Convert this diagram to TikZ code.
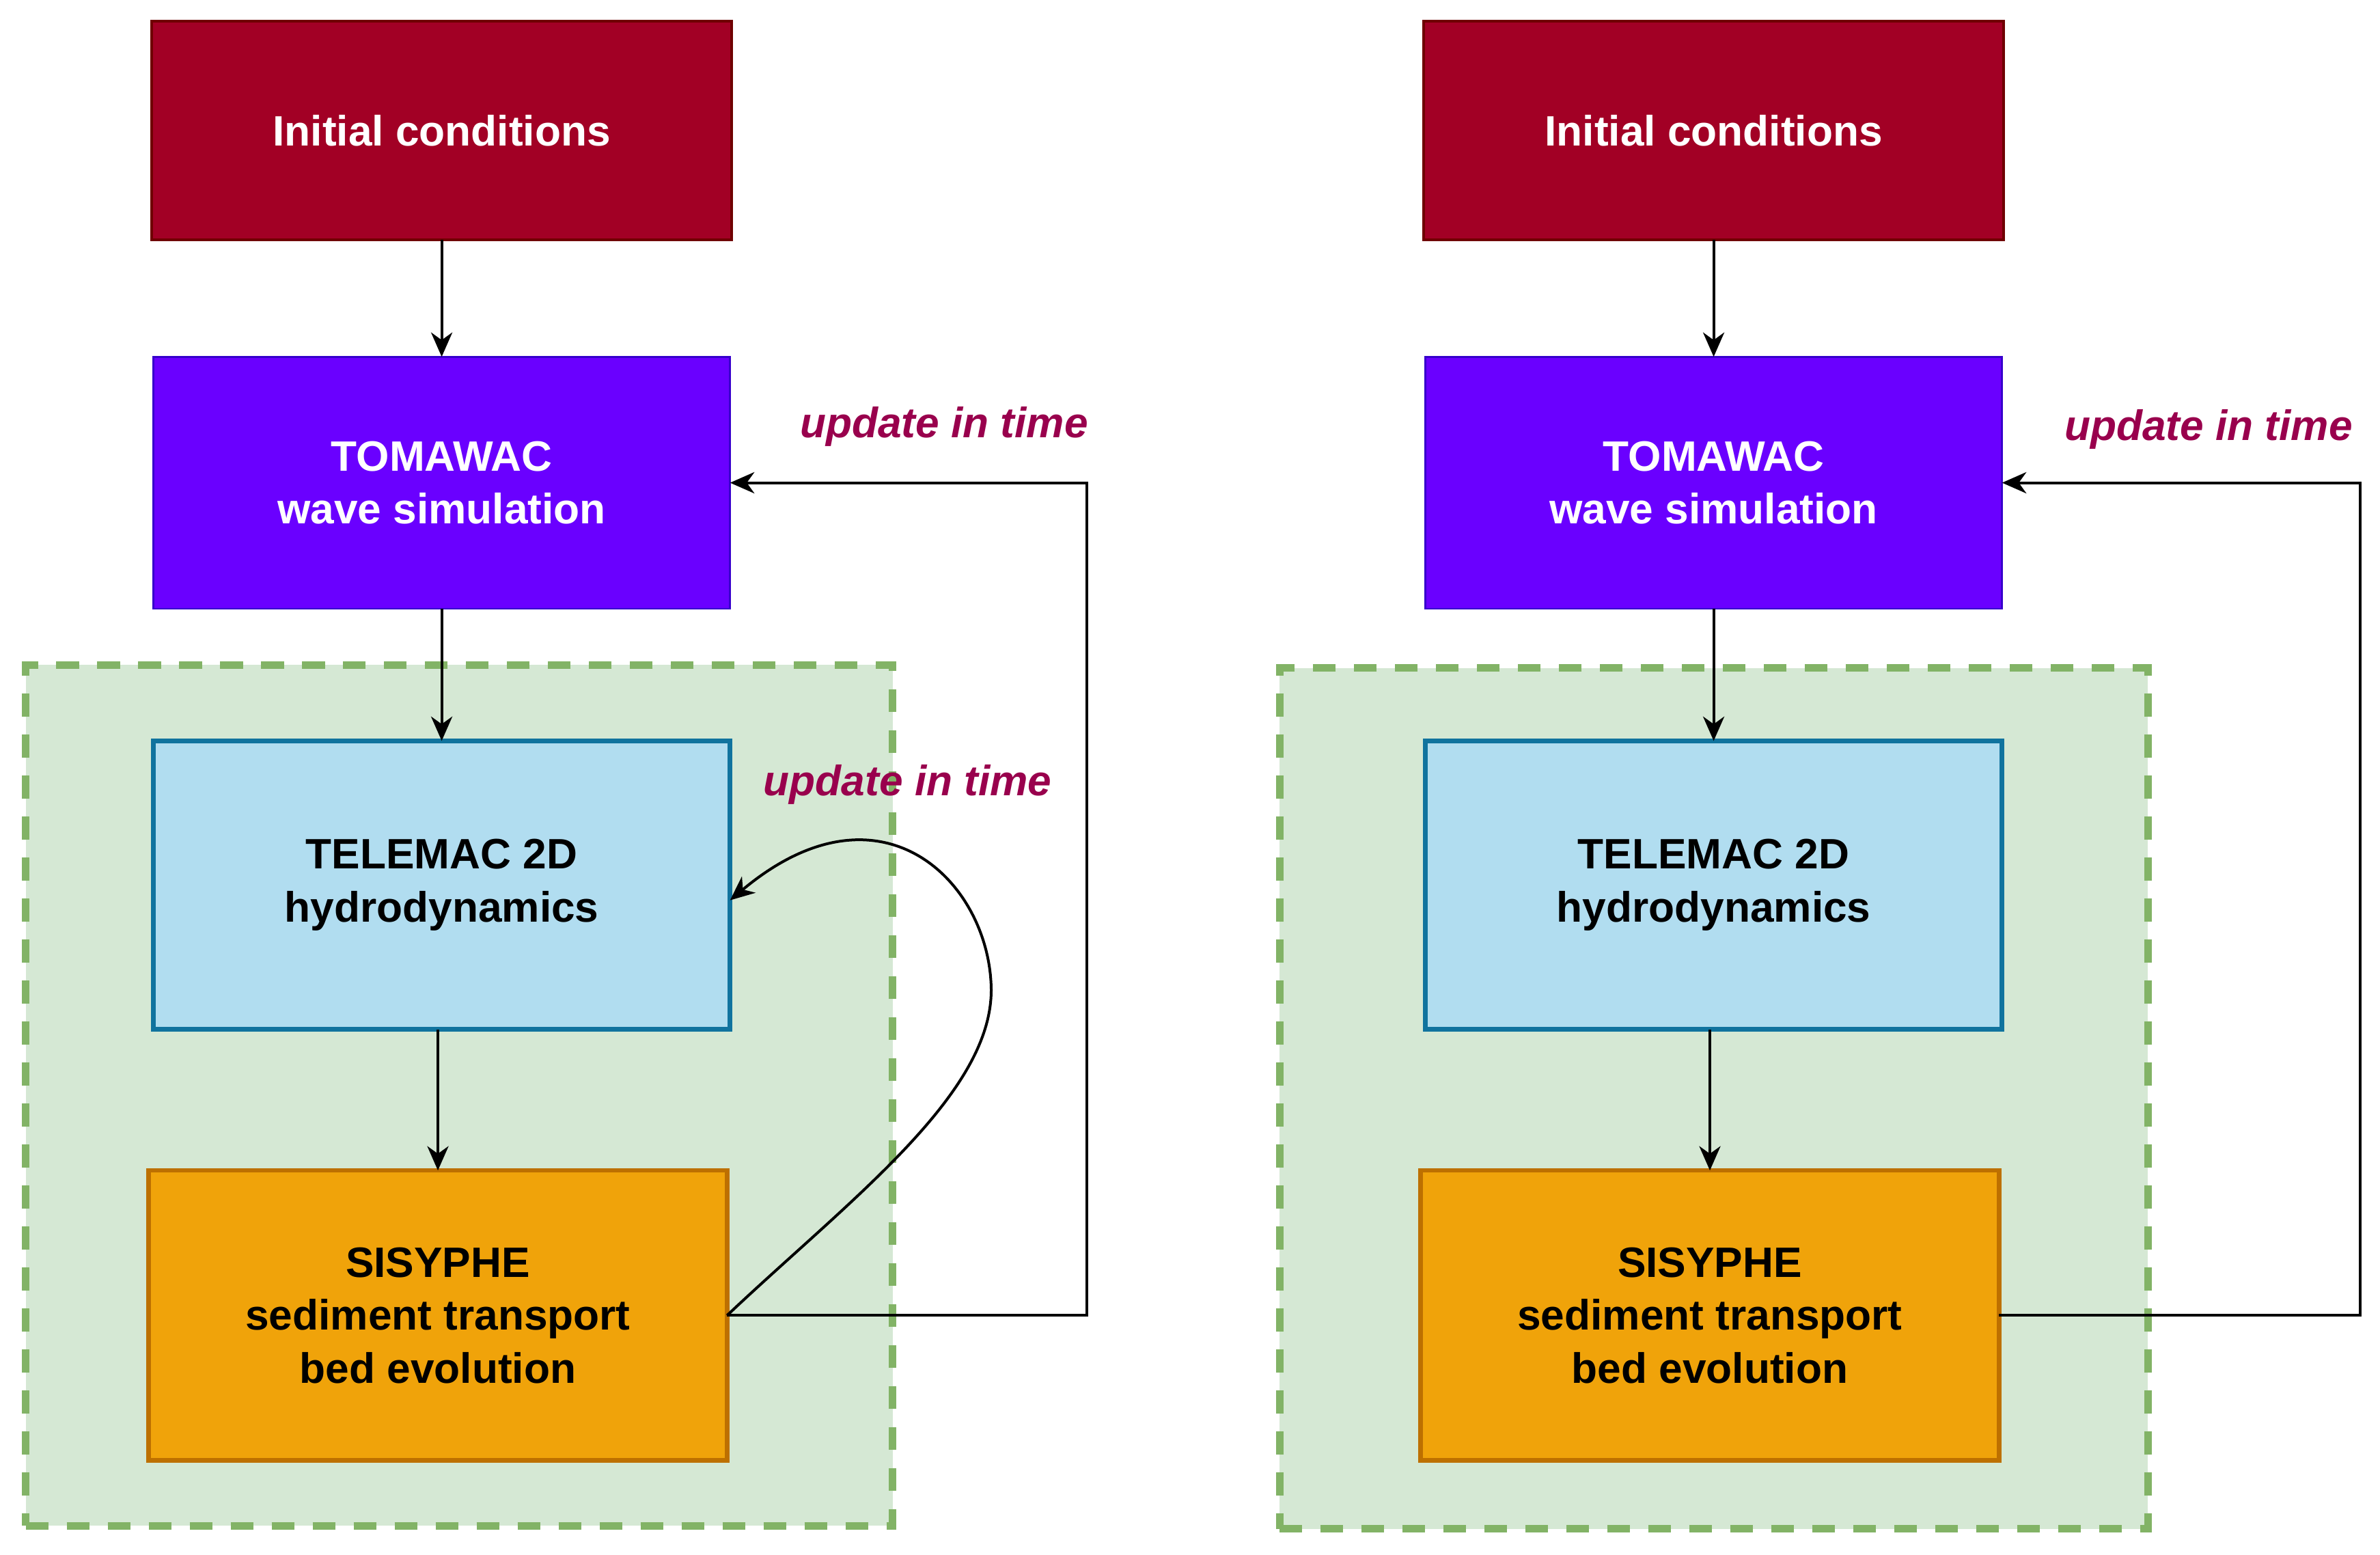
\documentclass[tikz,border=0pt]{standalone}
\usepackage{fontspec}
\setmainfont{Liberation Sans}
\usetikzlibrary{arrows.meta}
\definecolor{icfill}{HTML}{A20025}
\definecolor{icline}{HTML}{6F0000}
\definecolor{tmfill}{HTML}{6A00FF}
\definecolor{tmline}{HTML}{3700CC}
\definecolor{tlfill}{HTML}{B1DDF0}
\definecolor{tlline}{HTML}{10739E}
\definecolor{sifill}{HTML}{F0A30A}
\definecolor{siline}{HTML}{BD7000}
\definecolor{grfill}{HTML}{D5E8D4}
\definecolor{grline}{HTML}{82B366}
\definecolor{lblcol}{HTML}{99004D}
\begin{document}
\begin{tikzpicture}[x=0.5pt,y=-0.5pt,
  box/.style={rectangle, align=center, inner sep=0pt, outer sep=0pt,
    font=\fontsize{14}{17.5}\selectfont\bfseries},
  initbox/.style={box, fill=icfill, draw=icline, line width=1pt, text=white,
    minimum width=191pt, minimum height=72pt},
  tombox/.style={box, fill=tmfill, draw=tmline, line width=0.6pt, text=white,
    minimum width=190pt, minimum height=83pt},
  telbox/.style={box, fill=tlfill, draw=tlline, line width=1.5pt, text=black,
    minimum width=190pt, minimum height=95pt},
  sisbox/.style={box, fill=sifill, draw=siline, line width=1.5pt, text=black,
    minimum width=190.5pt, minimum height=95.5pt},
  group/.style={rectangle, inner sep=0pt, outer sep=0pt, fill=grfill, draw=grline,
    line width=2.5pt, dash pattern=on 7.5pt off 6pt},
  arr/.style={draw=black, line width=0.9pt, -{Stealth[length=8pt,width=7pt,inset=2.5pt]}},
  lbl/.style={text=lblcol, font=\fontsize{14}{17}\selectfont\bfseries\itshape, inner sep=0pt}
]
\useasboundingbox[fill=white] (0,0) rectangle (1568,1024);

% ---------- left diagram ----------
\node[group, minimum width=285.5pt, minimum height=283.5pt] (grp1) at (302.5,721.5) {};
\node[initbox] (ini1) at (291,86) {Initial conditions};
\node[tombox] (tom1) at (291,318) {TOMAWAC\\wave simulation};
\node[telbox] (tel1) at (291,583) {TELEMAC 2D\\hydrodynamics};
\node[sisbox] (sis1) at (288.5,866.5) {SISYPHE\\sediment transport\\bed evolution};

\draw[arr] (ini1) -- (tom1);
\draw[arr] (tom1) -- (tel1);
\draw[arr] (sis1.north |- tel1.south) -- (sis1.north);

\coordinate (fb1) at (716,318);
\draw[arr] (sis1.east) -| (fb1) -- (tom1.east);
\node[lbl] (lab1) at (622,281) {update in time};

\coordinate (cv1) at (653,650);
\draw[arr] (sis1.east) .. controls (560,790) and (655,720) .. (cv1)
  .. controls (651,580) and (580,510) .. ([yshift=-5pt]tel1.east);
\node[lbl] (lab2) at (598,517) {update in time};

% ---------- right diagram ----------
\node[group, minimum width=286pt, minimum height=283.5pt] (grp2) at (1129,723.5) {};
\node[initbox] (ini2) at (1129,86) {Initial conditions};
\node[tombox] (tom2) at (1129,318) {TOMAWAC\\wave simulation};
\node[telbox] (tel2) at (1129,583) {TELEMAC 2D\\hydrodynamics};
\node[sisbox] (sis2) at (1126.5,866.5) {SISYPHE\\sediment transport\\bed evolution};

\draw[arr] (ini2) -- (tom2);
\draw[arr] (tom2) -- (tel2);
\draw[arr] (sis2.north |- tel2.south) -- (sis2.north);

\coordinate (fb2) at (1555,318);
\draw[arr] (sis2.east) -| (fb2) -- (tom2.east);
\node[lbl] (lab3) at (1455,283) {update in time};
\end{tikzpicture}
\end{document}
